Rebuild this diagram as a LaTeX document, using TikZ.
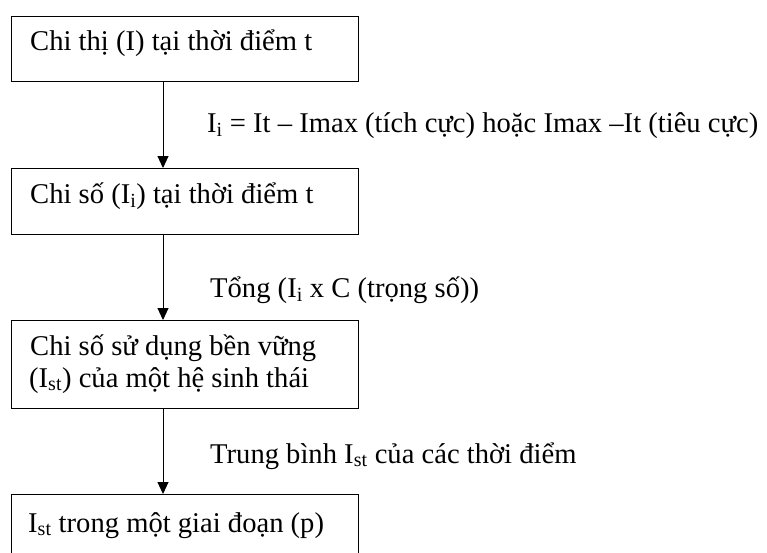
\documentclass[tikz,border=0pt]{standalone}
\usepackage{fontspec}
\setmainfont{Liberation Serif}
\usetikzlibrary{arrows.meta}
\newcommand\subs[1]{\textsubscript{#1}}
\begin{document}
\begin{tikzpicture}[x=1pt,y=-1pt,
  box/.style={draw, line width=1.2pt, rectangle, inner sep=0pt, anchor=north west, minimum width=347pt},
  txt/.style={anchor=base west, inner sep=0pt, font=\fontsize{28.6}{32}\selectfont},
  arr/.style={line width=1pt, -{Triangle[width=11pt,length=12pt]}}]
\useasboundingbox (0,0) rectangle (767,552);
\clip (0,0) rectangle (767,552);
% boxes
\node[box, minimum height=65pt] (b1) at (11,16) {};
\node[box, minimum height=66pt] (b2) at (11,168) {};
\node[box, minimum height=88pt] (b3) at (11,320) {};
\node[box, minimum height=80pt] (b4) at (11,494) {};
% box texts
\node[txt] (t1) at (30,50) {Chi thị (I) tại thời điểm t};
\node[txt] (t2) at (30,203) {Chi số (I\subs{i}) tại thời điểm t};
\node[txt] (t3a) at (30,355) {Chi số sử dụng bền vững};
\node[txt] (t3b) at (29,387) {(I\subs{st}) của một hệ sinh thái};
\node[txt] (t4) at (28,532) {I\subs{st} trong một giai đoạn (p)};
% connectors
\coordinate (ax) at (163,0);
\draw[arr] (b1.south -| ax) -- (b2.north -| ax);
\draw[arr] (b2.south -| ax) -- (b3.north -| ax);
\draw[arr] (b3.south -| ax) -- (b4.north -| ax);
% labels
\node[txt] (l1) at (207,132) {I\subs{i} = It – Imax (tích cực) hoặc Imax –It (tiêu cực)};
\node[txt] (l2) at (210,297) {Tổng (I\subs{i} x C (trọng số))};
\node[txt] (l3) at (210,463) {Trung bình I\subs{st} của các thời điểm};
\end{tikzpicture}
\end{document}
